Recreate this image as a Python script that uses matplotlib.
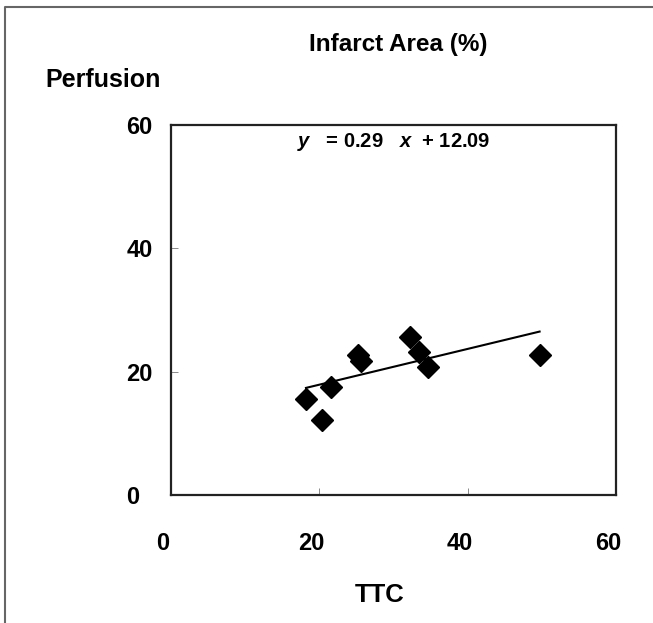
import matplotlib.pyplot as plt
from matplotlib.transforms import ScaledTranslation
import numpy as np

plt.rcParams['font.family'] = ['Liberation Sans', 'DejaVu Sans']
plt.rcParams['mathtext.fontset'] = 'custom'
plt.rcParams['mathtext.it'] = 'Liberation Sans:italic:bold'
plt.rcParams['mathtext.rm'] = 'Liberation Sans:bold'

# data
ttc = [18.2, 20.4, 21.6, 25.2, 25.6, 32.2, 33.5, 34.7, 49.7]
perfusion = [15.6, 12.2, 17.5, 22.7, 21.7, 25.7, 23.2, 20.7, 22.7]
slope = 0.29
intercept = 12.09
ticks = [0, 20, 40, 60]

fig = plt.figure(figsize=(6.53, 6.23), dpi=100)
ax = fig.add_axes([171 / 653, 1 - 495 / 623, 445 / 653, 370 / 623])

ax.plot(ttc, perfusion, 'D', color='black', markersize=11.5, zorder=3)
xl = np.array([min(ttc), max(ttc)])
ax.plot(xl, slope * xl + intercept, color='black', lw=1.5)

ax.set_xlim(0, 60)
ax.set_ylim(0, 60)
ax.set_xticks(ticks)
ax.set_yticks(ticks)
ax.set_xticklabels([str(t) for t in ticks], fontsize=17, fontweight='bold')
ax.set_yticklabels([str(t) for t in ticks], fontsize=17, fontweight='bold', ha='left')
ax.tick_params(axis='x', direction='in', length=5, width=0.6, color='#777777', pad=27)
ax.tick_params(axis='y', direction='in', length=5, width=0.6, color='#777777', pad=32)
off = ScaledTranslation(-8 / 100, 0, fig.dpi_scale_trans)
for lab in ax.get_xticklabels():
    lab.set_transform(lab.get_transform() + off)
for s in ax.spines.values():
    s.set_linewidth(1.6)
    s.set_color('#222222')

ax.text(0.5, 0.955, r'$y$   = 0.29   $x$  + 12.09', transform=ax.transAxes,
        ha='center', va='center', fontsize=14.5, fontweight='bold')

fig.text(398 / 653, 1 - 45 / 623, 'Infarct Area (%)', ha='center', va='center',
         fontsize=17.5, fontweight='bold')
fig.text(45 / 653, 1 - 80 / 623, 'Perfusion', ha='left', va='center',
         fontsize=18, fontweight='bold')
fig.text(380 / 653, 1 - 595 / 623, 'TTC', ha='center', va='center',
         fontsize=18.5, fontweight='bold')

# outer frame, left and top edges only
fig.add_artist(plt.Line2D([5 / 653, 5 / 653, 1], [0, 1 - 7 / 623, 1 - 7 / 623],
                          transform=fig.transFigure, color='#666666', lw=1.5))

fig.savefig('out.png', dpi=100)
